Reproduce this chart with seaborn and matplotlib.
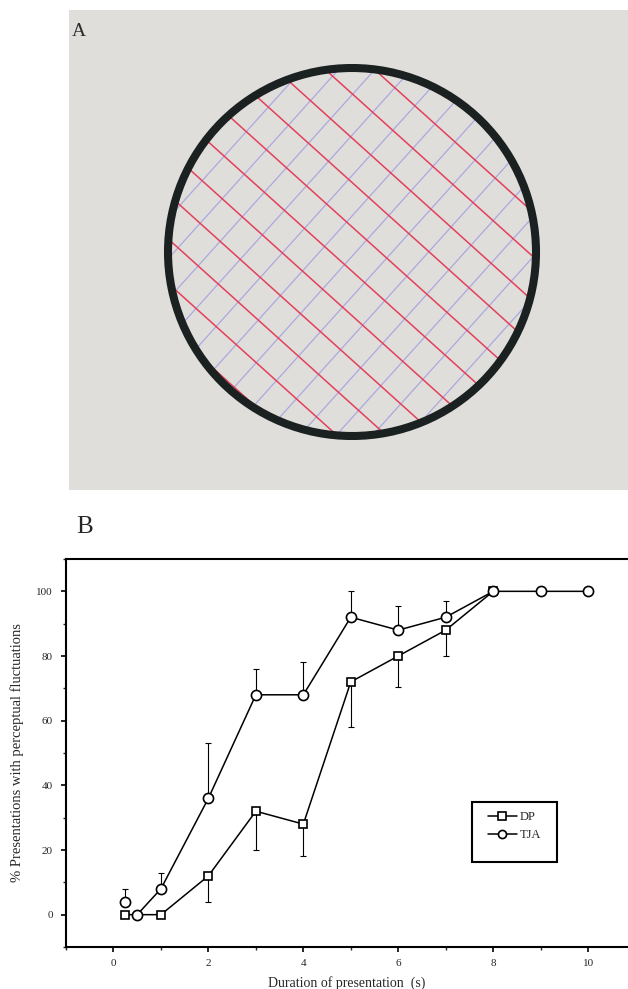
import numpy as np
import pandas as pd
import matplotlib
matplotlib.use('Agg')
import matplotlib.pyplot as plt
import seaborn as sns
from matplotlib.patches import Circle, Rectangle
from matplotlib.ticker import MultipleLocator

# ---------------- data (panel B) ----------------
subjects = ['DP', 'TJA']
dp_duration = [0.25, 1, 2, 3, 4, 5, 6, 7, 8]
dp_percent = [0, 0, 12, 32, 28, 72, 80, 88, 100]
dp_err_low = [0, 0, 8, 12, 10, 14, 9.5, 8, 0]
tja_duration = [0.25, 0.5, 1, 2, 3, 4, 5, 6, 7, 8, 9, 10]
tja_percent = [4, 0, 8, 36, 68, 68, 92, 88, 92, 100, 100, 100]
tja_err_up = [4, 0, 5, 17, 8, 10, 8, 7.5, 5, 0, 0, 0]
x_ticks = [0, 2, 4, 6, 8, 10]
y_ticks = [0, 20, 40, 60, 80, 100]
x_label = 'Duration of presentation  (s)'
y_label = '% Presentations with perceptual fluctuations'

sns.set_style('ticks')
plt.rcParams['font.family'] = ['Liberation Serif', 'DejaVu Serif']

W, H = 628, 989
fig = plt.figure(figsize=(W / 100, H / 100), dpi=100)
fig.patch.set_facecolor('white')


def px_axes(x0, y0, x1, y1):
    return fig.add_axes([x0 / W, 1 - y1 / H, (x1 - x0) / W, (y1 - y0) / H])


# ---------------- panel A: stimulus illustration ----------------
axA = px_axes(69, 10, 628, 490)
axA.set_facecolor('#dfdedb')
axA.set_xlim(69, 628)
axA.set_ylim(490, 10)
axA.set_xticks([])
axA.set_yticks([])
for s in axA.spines.values():
    s.set_visible(False)

cx, cy, R = 352, 252, 184
ang = np.deg2rad(42)
d_r = np.array([np.cos(ang), np.sin(ang)])
d_b = np.array([np.sin(ang), -np.cos(ang)])
c = np.array([cx, cy])
clip = Circle((cx, cy), R, transform=axA.transData)

for o in 18.7 + 33 * np.arange(-7, 8):
    p = c + o * d_b
    a, b = p - 260 * d_r, p + 260 * d_r
    ln, = axA.plot([a[0], b[0]], [a[1], b[1]], color='#e3405a', lw=1.1, zorder=2)
    ln.set_clip_path(clip)
for o in 2.9 + 27 * np.arange(-8, 9):
    p = c + o * d_r
    a, b = p - 260 * d_b, p + 260 * d_b
    ln, = axA.plot([a[0], b[0]], [a[1], b[1]], color='#aca8e0', lw=0.9, zorder=1)
    ln.set_clip_path(clip)
axA.add_patch(Circle((cx, cy), R, fill=False, lw=5.8, ec='#1b2121', zorder=3))

fig.text(72 / W, 1 - 31 / H, 'A', fontsize=14, va='center', ha='left', color='#2a2a2a')

# ---------------- panel B: line chart ----------------
axB = px_axes(66, 559, 628, 947)
axB.set_facecolor('white')

df = pd.concat([
    pd.DataFrame({'duration': dp_duration, 'percent': dp_percent, 'subject': 'DP'}),
    pd.DataFrame({'duration': tja_duration, 'percent': tja_percent, 'subject': 'TJA'}),
], ignore_index=True)

# the 0.25 s TJA point is shown on its own, not joined to the curve
isolated_mask = (df['subject'] == 'TJA') & (df['duration'] < 0.5)
connected = df[~isolated_mask]
isolated = df[isolated_mask]

sns.lineplot(data=connected, x='duration', y='percent', hue='subject', style='subject',
             hue_order=subjects, style_order=subjects,
             palette={'DP': 'black', 'TJA': 'black'}, markers={'DP': 's', 'TJA': 'o'},
             dashes=False, markersize=6.4, markerfacecolor='white', markeredgecolor='black',
             markeredgewidth=1.2, linewidth=1.1, legend=False, errorbar=None,
             ax=axB, zorder=3)
handles = list(axB.lines[:2])
handles[0].set_zorder(3)
handles[1].set_zorder(3.5)
handles[1].set_markersize(7.3)

sns.scatterplot(data=isolated, x='duration', y='percent', marker='o', s=7.3 ** 2,
                color='white', edgecolor='black', linewidth=1.2, legend=False,
                ax=axB, zorder=4)

dp_low = np.array(dp_err_low)
tja_up = np.array(tja_err_up)
axB.errorbar(dp_duration, dp_percent, yerr=[dp_low, np.zeros_like(dp_low)], fmt='none',
             ecolor='black', elinewidth=0.8, capsize=2.2, capthick=0.8, zorder=1)
axB.errorbar(tja_duration, tja_percent, yerr=[np.zeros_like(tja_up), tja_up], fmt='none',
             ecolor='black', elinewidth=0.8, capsize=2.2, capthick=0.8, zorder=1)

axB.set_xlim(-1, 10.84)
axB.set_ylim(-10, 110)
axB.set_xticks(x_ticks)
axB.set_xticklabels([str(t) for t in x_ticks])
axB.set_yticks(y_ticks)
axB.set_yticklabels([str(t) for t in y_ticks])
axB.xaxis.set_minor_locator(MultipleLocator(1))
axB.yaxis.set_minor_locator(MultipleLocator(10))
axB.tick_params(axis='both', which='major', direction='out', length=3.5, width=1.2,
                labelsize=8, color='black')
axB.tick_params(axis='both', which='minor', direction='out', length=2.5, width=1.0)
axB.tick_params(axis='x', which='major', pad=5)
axB.tick_params(axis='y', which='major', pad=6)
for side in ['left', 'bottom', 'top']:
    axB.spines[side].set_linewidth(1.5)
    axB.spines[side].set_color('black')
axB.spines['right'].set_visible(False)

axB.set_xlabel(x_label, fontsize=10)
axB.set_ylabel(y_label, fontsize=10.5)
axB.xaxis.set_label_coords(0.5, -0.075)
axB.yaxis.set_label_coords(-0.075, 0.5)

axB.add_patch(Rectangle((0.7224, 0.219), 0.1513, 0.1547, transform=axB.transAxes,
                        fill=False, lw=1.5, ec='black', zorder=5))
axB.legend(handles, subjects, loc='upper left', bbox_to_anchor=(0.751, 0.35),
           frameon=False, borderpad=0, borderaxespad=0, handlelength=2.3,
           handletextpad=0.25, labelspacing=0.5, fontsize=9, markerscale=0.8)

fig.text(76 / W, 1 - 527 / H, 'B', fontsize=18, va='center', ha='left')

fig.savefig('out.png', dpi=100, facecolor='white')
